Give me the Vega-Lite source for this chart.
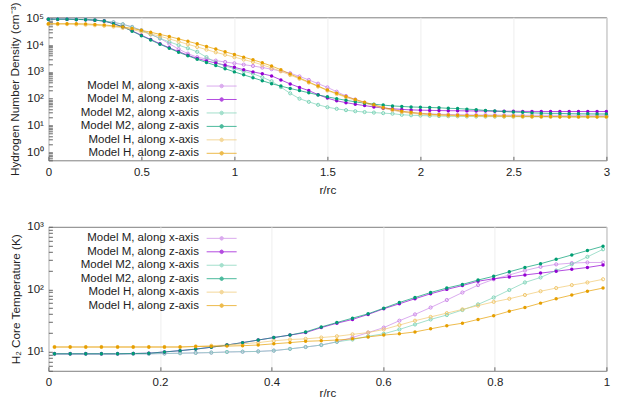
{
"$schema": "https://vega.github.io/schema/vega-lite/v6.json",
"padding": {"left": 8.4, "top": 1.3, "right": 3, "bottom": 0},
"spacing": 22.5,
"config": {
 "font": "Liberation Sans",
 "view": {"stroke": "#808080", "strokeWidth": 1},
 "axis": {"labelFont": "Liberation Sans", "labelFontSize": 11.5, "labelColor": "#222", "titleFont": "Liberation Sans", "titleFontSize": 11.8, "titleFontWeight": "normal", "titleColor": "#222", "domain": false, "grid": false, "tickColor": "#666", "tickSize": -4, "labelPadding": 10, "labelOverlap": false, "labelFlush": false},
 "axisY": {"labelPadding": 9, "titlePadding": 5},
 "legend": {"labelFont": "Liberation Sans"}
},
"resolve": {"legend": {"color": "independent"}},
"datasets": {
"top": [
{"s":"Mx","x":0,"y":93000},{"s":"Mx","x":0.05,"y":93000},{"s":"Mx","x":0.1,"y":93000},{"s":"Mx","x":0.15,"y":91000},{"s":"Mx","x":0.2,"y":91000},{"s":"Mx","x":0.25,"y":87000},{"s":"Mx","x":0.3,"y":79000},{"s":"Mx","x":0.35,"y":71000},{"s":"Mx","x":0.4,"y":60000},{"s":"Mx","x":0.45,"y":48000},{"s":"Mx","x":0.5,"y":35500},{"s":"Mx","x":0.55,"y":25100},{"s":"Mx","x":0.6,"y":17800},{"s":"Mx","x":0.65,"y":11200},{"s":"Mx","x":0.7,"y":7080},{"s":"Mx","x":0.75,"y":4790},{"s":"Mx","x":0.8,"y":3550},{"s":"Mx","x":0.85,"y":3020},{"s":"Mx","x":0.9,"y":2630},{"s":"Mx","x":0.95,"y":2340},{"s":"Mx","x":1.0,"y":2090},{"s":"Mx","x":1.05,"y":1860},{"s":"Mx","x":1.1,"y":1660},{"s":"Mx","x":1.15,"y":1450},{"s":"Mx","x":1.2,"y":1260},{"s":"Mx","x":1.25,"y":1070},{"s":"Mx","x":1.3,"y":891},{"s":"Mx","x":1.35,"y":676},{"s":"Mx","x":1.4,"y":501},{"s":"Mx","x":1.45,"y":363},{"s":"Mx","x":1.5,"y":263},{"s":"Mx","x":1.55,"y":182},{"s":"Mx","x":1.6,"y":126},{"s":"Mx","x":1.65,"y":93},{"s":"Mx","x":1.7,"y":71},{"s":"Mx","x":1.75,"y":56},{"s":"Mx","x":1.8,"y":45},{"s":"Mx","x":1.85,"y":38},{"s":"Mx","x":1.9,"y":33},{"s":"Mx","x":1.95,"y":30},{"s":"Mx","x":2.0,"y":28},{"s":"Mx","x":2.05,"y":27},{"s":"Mx","x":2.1,"y":26.3},{"s":"Mx","x":2.15,"y":25.7},{"s":"Mx","x":2.2,"y":25.1},{"s":"Mx","x":2.25,"y":24.8},{"s":"Mx","x":2.3,"y":24.5},{"s":"Mx","x":2.35,"y":24.5},{"s":"Mx","x":2.4,"y":24.3},{"s":"Mx","x":2.45,"y":24.2},{"s":"Mx","x":2.5,"y":24.1},{"s":"Mx","x":2.55,"y":24},{"s":"Mx","x":2.6,"y":24},{"s":"Mx","x":2.65,"y":24},{"s":"Mx","x":2.7,"y":24},{"s":"Mx","x":2.75,"y":24},{"s":"Mx","x":2.8,"y":24},{"s":"Mx","x":2.85,"y":24},{"s":"Mx","x":2.9,"y":24},{"s":"Mx","x":2.95,"y":24},{"s":"Mx","x":3.0,"y":24},
{"s":"Mz","x":0,"y":93000},{"s":"Mz","x":0.05,"y":93000},{"s":"Mz","x":0.1,"y":93000},{"s":"Mz","x":0.15,"y":91000},{"s":"Mz","x":0.2,"y":89000},{"s":"Mz","x":0.25,"y":85000},{"s":"Mz","x":0.3,"y":79000},{"s":"Mz","x":0.35,"y":63000},{"s":"Mz","x":0.4,"y":48000},{"s":"Mz","x":0.45,"y":34000},{"s":"Mz","x":0.5,"y":23400},{"s":"Mz","x":0.55,"y":16200},{"s":"Mz","x":0.6,"y":11200},{"s":"Mz","x":0.65,"y":7940},{"s":"Mz","x":0.7,"y":5750},{"s":"Mz","x":0.75,"y":4170},{"s":"Mz","x":0.8,"y":3160},{"s":"Mz","x":0.85,"y":2570},{"s":"Mz","x":0.9,"y":2140},{"s":"Mz","x":0.95,"y":1780},{"s":"Mz","x":1.0,"y":1480},{"s":"Mz","x":1.05,"y":1200},{"s":"Mz","x":1.1,"y":1000},{"s":"Mz","x":1.15,"y":851},{"s":"Mz","x":1.2,"y":708},{"s":"Mz","x":1.25,"y":501},{"s":"Mz","x":1.3,"y":355},{"s":"Mz","x":1.35,"y":263},{"s":"Mz","x":1.4,"y":200},{"s":"Mz","x":1.45,"y":141},{"s":"Mz","x":1.5,"y":105},{"s":"Mz","x":1.55,"y":83},{"s":"Mz","x":1.6,"y":71},{"s":"Mz","x":1.65,"y":62},{"s":"Mz","x":1.7,"y":55},{"s":"Mz","x":1.75,"y":49},{"s":"Mz","x":1.8,"y":44.7},{"s":"Mz","x":1.85,"y":41.7},{"s":"Mz","x":1.9,"y":39.8},{"s":"Mz","x":1.95,"y":38},{"s":"Mz","x":2.0,"y":37.2},{"s":"Mz","x":2.05,"y":36.5},{"s":"Mz","x":2.1,"y":36},{"s":"Mz","x":2.15,"y":35.5},{"s":"Mz","x":2.2,"y":35.3},{"s":"Mz","x":2.25,"y":35},{"s":"Mz","x":2.3,"y":34.7},{"s":"Mz","x":2.35,"y":34.5},{"s":"Mz","x":2.4,"y":34.2},{"s":"Mz","x":2.45,"y":34},{"s":"Mz","x":2.5,"y":33.9},{"s":"Mz","x":2.55,"y":33.5},{"s":"Mz","x":2.6,"y":33.4},{"s":"Mz","x":2.65,"y":33.3},{"s":"Mz","x":2.7,"y":33.2},{"s":"Mz","x":2.75,"y":33.1},{"s":"Mz","x":2.8,"y":33.1},{"s":"Mz","x":2.85,"y":33.1},{"s":"Mz","x":2.9,"y":33.1},{"s":"Mz","x":2.95,"y":33.1},{"s":"Mz","x":3.0,"y":33.1},
{"s":"M2x","x":0,"y":93000},{"s":"M2x","x":0.05,"y":93000},{"s":"M2x","x":0.1,"y":93000},{"s":"M2x","x":0.15,"y":91000},{"s":"M2x","x":0.2,"y":91000},{"s":"M2x","x":0.25,"y":87000},{"s":"M2x","x":0.3,"y":79000},{"s":"M2x","x":0.35,"y":71000},{"s":"M2x","x":0.4,"y":60000},{"s":"M2x","x":0.45,"y":47000},{"s":"M2x","x":0.5,"y":35500},{"s":"M2x","x":0.55,"y":25100},{"s":"M2x","x":0.6,"y":17800},{"s":"M2x","x":0.65,"y":13200},{"s":"M2x","x":0.7,"y":10000},{"s":"M2x","x":0.75,"y":7590},{"s":"M2x","x":0.8,"y":5620},{"s":"M2x","x":0.85,"y":3550},{"s":"M2x","x":0.9,"y":2240},{"s":"M2x","x":0.95,"y":1660},{"s":"M2x","x":1.0,"y":1320},{"s":"M2x","x":1.05,"y":1050},{"s":"M2x","x":1.1,"y":851},{"s":"M2x","x":1.15,"y":631},{"s":"M2x","x":1.2,"y":447},{"s":"M2x","x":1.25,"y":269},{"s":"M2x","x":1.3,"y":158},{"s":"M2x","x":1.35,"y":100},{"s":"M2x","x":1.4,"y":76},{"s":"M2x","x":1.45,"y":59},{"s":"M2x","x":1.5,"y":48},{"s":"M2x","x":1.55,"y":41.7},{"s":"M2x","x":1.6,"y":37.2},{"s":"M2x","x":1.65,"y":33.9},{"s":"M2x","x":1.7,"y":31.6},{"s":"M2x","x":1.75,"y":30.2},{"s":"M2x","x":1.8,"y":28.8},{"s":"M2x","x":1.85,"y":27.5},{"s":"M2x","x":1.9,"y":25.1},{"s":"M2x","x":1.95,"y":24},{"s":"M2x","x":2.0,"y":23.4},{"s":"M2x","x":2.05,"y":22.9},{"s":"M2x","x":2.1,"y":22.4},{"s":"M2x","x":2.15,"y":22.1},{"s":"M2x","x":2.2,"y":21.9},{"s":"M2x","x":2.25,"y":21.6},{"s":"M2x","x":2.3,"y":21.5},{"s":"M2x","x":2.35,"y":21.4},{"s":"M2x","x":2.4,"y":21.4},{"s":"M2x","x":2.45,"y":21.4},{"s":"M2x","x":2.5,"y":21.4},{"s":"M2x","x":2.55,"y":21.4},{"s":"M2x","x":2.6,"y":21.4},{"s":"M2x","x":2.65,"y":21.4},{"s":"M2x","x":2.7,"y":21.4},{"s":"M2x","x":2.75,"y":21.4},{"s":"M2x","x":2.8,"y":21.4},{"s":"M2x","x":2.85,"y":21.4},{"s":"M2x","x":2.9,"y":21.4},{"s":"M2x","x":2.95,"y":21.4},{"s":"M2x","x":3.0,"y":21.4},
{"s":"M2z","x":0,"y":93000},{"s":"M2z","x":0.05,"y":93000},{"s":"M2z","x":0.1,"y":93000},{"s":"M2z","x":0.15,"y":91000},{"s":"M2z","x":0.2,"y":89000},{"s":"M2z","x":0.25,"y":85000},{"s":"M2z","x":0.3,"y":79000},{"s":"M2z","x":0.35,"y":63000},{"s":"M2z","x":0.4,"y":48000},{"s":"M2z","x":0.45,"y":33000},{"s":"M2z","x":0.5,"y":22400},{"s":"M2z","x":0.55,"y":15500},{"s":"M2z","x":0.6,"y":10700},{"s":"M2z","x":0.65,"y":7590},{"s":"M2z","x":0.7,"y":5370},{"s":"M2z","x":0.75,"y":3980},{"s":"M2z","x":0.8,"y":2950},{"s":"M2z","x":0.85,"y":2240},{"s":"M2z","x":0.9,"y":1740},{"s":"M2z","x":0.95,"y":1320},{"s":"M2z","x":1.0,"y":1000},{"s":"M2z","x":1.05,"y":776},{"s":"M2z","x":1.1,"y":603},{"s":"M2z","x":1.15,"y":468},{"s":"M2z","x":1.2,"y":363},{"s":"M2z","x":1.25,"y":295},{"s":"M2z","x":1.3,"y":240},{"s":"M2z","x":1.35,"y":200},{"s":"M2z","x":1.4,"y":166},{"s":"M2z","x":1.45,"y":138},{"s":"M2z","x":1.5,"y":117},{"s":"M2z","x":1.55,"y":100},{"s":"M2z","x":1.6,"y":87},{"s":"M2z","x":1.65,"y":76},{"s":"M2z","x":1.7,"y":68},{"s":"M2z","x":1.75,"y":62},{"s":"M2z","x":1.8,"y":57.5},{"s":"M2z","x":1.85,"y":53.7},{"s":"M2z","x":1.9,"y":51.3},{"s":"M2z","x":1.95,"y":49},{"s":"M2z","x":2.0,"y":47.9},{"s":"M2z","x":2.05,"y":46.8},{"s":"M2z","x":2.1,"y":45.7},{"s":"M2z","x":2.15,"y":43.7},{"s":"M2z","x":2.2,"y":42.7},{"s":"M2z","x":2.25,"y":40.7},{"s":"M2z","x":2.3,"y":38.9},{"s":"M2z","x":2.35,"y":36.3},{"s":"M2z","x":2.4,"y":34.7},{"s":"M2z","x":2.45,"y":33.1},{"s":"M2z","x":2.5,"y":31.6},{"s":"M2z","x":2.55,"y":30.9},{"s":"M2z","x":2.6,"y":29.5},{"s":"M2z","x":2.65,"y":28.8},{"s":"M2z","x":2.7,"y":28.2},{"s":"M2z","x":2.75,"y":28.2},{"s":"M2z","x":2.8,"y":27.5},{"s":"M2z","x":2.85,"y":27.3},{"s":"M2z","x":2.9,"y":27.1},{"s":"M2z","x":2.95,"y":26.9},{"s":"M2z","x":3.0,"y":26.9},
{"s":"Hx","x":0,"y":60300},{"s":"Hx","x":0.05,"y":60300},{"s":"Hx","x":0.1,"y":60300},{"s":"Hx","x":0.15,"y":58900},{"s":"Hx","x":0.2,"y":57500},{"s":"Hx","x":0.25,"y":55000},{"s":"Hx","x":0.3,"y":52500},{"s":"Hx","x":0.35,"y":49000},{"s":"Hx","x":0.4,"y":43700},{"s":"Hx","x":0.45,"y":38000},{"s":"Hx","x":0.5,"y":31600},{"s":"Hx","x":0.55,"y":26300},{"s":"Hx","x":0.6,"y":21400},{"s":"Hx","x":0.65,"y":17000},{"s":"Hx","x":0.7,"y":13500},{"s":"Hx","x":0.75,"y":10700},{"s":"Hx","x":0.8,"y":8510},{"s":"Hx","x":0.85,"y":6760},{"s":"Hx","x":0.9,"y":5370},{"s":"Hx","x":0.95,"y":4370},{"s":"Hx","x":1.0,"y":3550},{"s":"Hx","x":1.05,"y":2880},{"s":"Hx","x":1.1,"y":2340},{"s":"Hx","x":1.15,"y":1820},{"s":"Hx","x":1.2,"y":1410},{"s":"Hx","x":1.25,"y":1050},{"s":"Hx","x":1.3,"y":759},{"s":"Hx","x":1.35,"y":550},{"s":"Hx","x":1.4,"y":398},{"s":"Hx","x":1.45,"y":282},{"s":"Hx","x":1.5,"y":200},{"s":"Hx","x":1.55,"y":148},{"s":"Hx","x":1.6,"y":112},{"s":"Hx","x":1.65,"y":87},{"s":"Hx","x":1.7,"y":68},{"s":"Hx","x":1.75,"y":54},{"s":"Hx","x":1.8,"y":43.7},{"s":"Hx","x":1.85,"y":37.2},{"s":"Hx","x":1.9,"y":31.6},{"s":"Hx","x":1.95,"y":28.8},{"s":"Hx","x":2.0,"y":26.3},{"s":"Hx","x":2.05,"y":25.1},{"s":"Hx","x":2.1,"y":24},{"s":"Hx","x":2.15,"y":23.4},{"s":"Hx","x":2.2,"y":22.9},{"s":"Hx","x":2.25,"y":22.6},{"s":"Hx","x":2.3,"y":22.4},{"s":"Hx","x":2.35,"y":22.1},{"s":"Hx","x":2.4,"y":21.9},{"s":"Hx","x":2.45,"y":21.6},{"s":"Hx","x":2.5,"y":21.4},{"s":"Hx","x":2.55,"y":21.2},{"s":"Hx","x":2.6,"y":20.9},{"s":"Hx","x":2.65,"y":20.9},{"s":"Hx","x":2.7,"y":20.9},{"s":"Hx","x":2.75,"y":20.9},{"s":"Hx","x":2.8,"y":20.9},{"s":"Hx","x":2.85,"y":20.9},{"s":"Hx","x":2.9,"y":20.9},{"s":"Hx","x":2.95,"y":20.9},{"s":"Hx","x":3.0,"y":20.9},
{"s":"Hz","x":0,"y":63000},{"s":"Hz","x":0.05,"y":63000},{"s":"Hz","x":0.1,"y":63000},{"s":"Hz","x":0.15,"y":63000},{"s":"Hz","x":0.2,"y":61700},{"s":"Hz","x":0.25,"y":58900},{"s":"Hz","x":0.3,"y":56200},{"s":"Hz","x":0.35,"y":52500},{"s":"Hz","x":0.4,"y":47900},{"s":"Hz","x":0.45,"y":41700},{"s":"Hz","x":0.5,"y":35500},{"s":"Hz","x":0.55,"y":30200},{"s":"Hz","x":0.6,"y":25100},{"s":"Hz","x":0.65,"y":20900},{"s":"Hz","x":0.7,"y":17000},{"s":"Hz","x":0.75,"y":13800},{"s":"Hz","x":0.8,"y":11200},{"s":"Hz","x":0.85,"y":8910},{"s":"Hz","x":0.9,"y":7080},{"s":"Hz","x":0.95,"y":5620},{"s":"Hz","x":1.0,"y":4470},{"s":"Hz","x":1.05,"y":3550},{"s":"Hz","x":1.1,"y":2820},{"s":"Hz","x":1.15,"y":2190},{"s":"Hz","x":1.2,"y":1660},{"s":"Hz","x":1.25,"y":1200},{"s":"Hz","x":1.3,"y":832},{"s":"Hz","x":1.35,"y":589},{"s":"Hz","x":1.4,"y":417},{"s":"Hz","x":1.45,"y":295},{"s":"Hz","x":1.5,"y":209},{"s":"Hz","x":1.55,"y":158},{"s":"Hz","x":1.6,"y":120},{"s":"Hz","x":1.65,"y":93},{"s":"Hz","x":1.7,"y":74},{"s":"Hz","x":1.75,"y":59},{"s":"Hz","x":1.8,"y":47},{"s":"Hz","x":1.85,"y":39.8},{"s":"Hz","x":1.9,"y":33.9},{"s":"Hz","x":1.95,"y":30.9},{"s":"Hz","x":2.0,"y":28.2},{"s":"Hz","x":2.05,"y":26.3},{"s":"Hz","x":2.1,"y":25.1},{"s":"Hz","x":2.15,"y":24.5},{"s":"Hz","x":2.2,"y":24},{"s":"Hz","x":2.25,"y":23.7},{"s":"Hz","x":2.3,"y":23.4},{"s":"Hz","x":2.35,"y":23.1},{"s":"Hz","x":2.4,"y":22.9},{"s":"Hz","x":2.45,"y":22.6},{"s":"Hz","x":2.5,"y":22.4},{"s":"Hz","x":2.55,"y":22.1},{"s":"Hz","x":2.6,"y":21.9},{"s":"Hz","x":2.65,"y":21.6},{"s":"Hz","x":2.7,"y":21.4},{"s":"Hz","x":2.75,"y":21.2},{"s":"Hz","x":2.8,"y":20.9},{"s":"Hz","x":2.85,"y":20.9},{"s":"Hz","x":2.9,"y":20.9},{"s":"Hz","x":2.95,"y":20.9},{"s":"Hz","x":3.0,"y":20.9}
],
"bot": [
{"s":"Mx","x":0.011,"y":9.33},{"s":"Mx","x":0.039,"y":9.33},{"s":"Mx","x":0.067,"y":9.33},{"s":"Mx","x":0.095,"y":9.33},{"s":"Mx","x":0.124,"y":9.33},{"s":"Mx","x":0.152,"y":9.33},{"s":"Mx","x":0.18,"y":9.33},{"s":"Mx","x":0.208,"y":9.44},{"s":"Mx","x":0.236,"y":9.55},{"s":"Mx","x":0.264,"y":9.66},{"s":"Mx","x":0.292,"y":9.77},{"s":"Mx","x":0.32,"y":10},{"s":"Mx","x":0.348,"y":10.1},{"s":"Mx","x":0.376,"y":10.2},{"s":"Mx","x":0.404,"y":10.5},{"s":"Mx","x":0.433,"y":11.2},{"s":"Mx","x":0.461,"y":12},{"s":"Mx","x":0.489,"y":12.9},{"s":"Mx","x":0.517,"y":14.5},{"s":"Mx","x":0.545,"y":17},{"s":"Mx","x":0.573,"y":20.4},{"s":"Mx","x":0.601,"y":24.5},{"s":"Mx","x":0.629,"y":31.6},{"s":"Mx","x":0.657,"y":39.8},{"s":"Mx","x":0.685,"y":51.3},{"s":"Mx","x":0.714,"y":67.6},{"s":"Mx","x":0.742,"y":89.1},{"s":"Mx","x":0.77,"y":117},{"s":"Mx","x":0.798,"y":145},{"s":"Mx","x":0.826,"y":170},{"s":"Mx","x":0.854,"y":200},{"s":"Mx","x":0.882,"y":229},{"s":"Mx","x":0.91,"y":251},{"s":"Mx","x":0.938,"y":263},{"s":"Mx","x":0.966,"y":269},{"s":"Mx","x":0.994,"y":269},
{"s":"Mz","x":0.011,"y":9.33},{"s":"Mz","x":0.039,"y":9.33},{"s":"Mz","x":0.067,"y":9.33},{"s":"Mz","x":0.095,"y":9.33},{"s":"Mz","x":0.124,"y":9.33},{"s":"Mz","x":0.152,"y":9.44},{"s":"Mz","x":0.18,"y":9.55},{"s":"Mz","x":0.208,"y":10},{"s":"Mz","x":0.236,"y":10.5},{"s":"Mz","x":0.264,"y":11.1},{"s":"Mz","x":0.292,"y":11.9},{"s":"Mz","x":0.32,"y":12.9},{"s":"Mz","x":0.348,"y":14.1},{"s":"Mz","x":0.376,"y":15.5},{"s":"Mz","x":0.404,"y":17},{"s":"Mz","x":0.433,"y":18.6},{"s":"Mz","x":0.461,"y":20.4},{"s":"Mz","x":0.489,"y":24.5},{"s":"Mz","x":0.517,"y":28.8},{"s":"Mz","x":0.545,"y":33.1},{"s":"Mz","x":0.573,"y":39.8},{"s":"Mz","x":0.601,"y":49},{"s":"Mz","x":0.629,"y":58.9},{"s":"Mz","x":0.657,"y":70.8},{"s":"Mz","x":0.685,"y":85.1},{"s":"Mz","x":0.714,"y":100},{"s":"Mz","x":0.742,"y":115},{"s":"Mz","x":0.77,"y":135},{"s":"Mz","x":0.798,"y":148},{"s":"Mz","x":0.826,"y":158},{"s":"Mz","x":0.854,"y":170},{"s":"Mz","x":0.882,"y":182},{"s":"Mz","x":0.91,"y":195},{"s":"Mz","x":0.938,"y":209},{"s":"Mz","x":0.966,"y":224},{"s":"Mz","x":0.994,"y":245},
{"s":"M2x","x":0.011,"y":9.33},{"s":"M2x","x":0.039,"y":9.33},{"s":"M2x","x":0.067,"y":9.33},{"s":"M2x","x":0.095,"y":9.33},{"s":"M2x","x":0.124,"y":9.33},{"s":"M2x","x":0.152,"y":9.33},{"s":"M2x","x":0.18,"y":9.33},{"s":"M2x","x":0.208,"y":9.44},{"s":"M2x","x":0.236,"y":9.55},{"s":"M2x","x":0.264,"y":9.66},{"s":"M2x","x":0.292,"y":9.77},{"s":"M2x","x":0.32,"y":10},{"s":"M2x","x":0.348,"y":10.1},{"s":"M2x","x":0.376,"y":10.2},{"s":"M2x","x":0.404,"y":10.5},{"s":"M2x","x":0.433,"y":11.2},{"s":"M2x","x":0.461,"y":12},{"s":"M2x","x":0.489,"y":12.9},{"s":"M2x","x":0.517,"y":14.5},{"s":"M2x","x":0.545,"y":15.8},{"s":"M2x","x":0.573,"y":17.8},{"s":"M2x","x":0.601,"y":19.5},{"s":"M2x","x":0.629,"y":22.9},{"s":"M2x","x":0.657,"y":27.5},{"s":"M2x","x":0.685,"y":33.1},{"s":"M2x","x":0.714,"y":38.9},{"s":"M2x","x":0.742,"y":46.8},{"s":"M2x","x":0.77,"y":57.5},{"s":"M2x","x":0.798,"y":74.1},{"s":"M2x","x":0.826,"y":97.7},{"s":"M2x","x":0.854,"y":129},{"s":"M2x","x":0.882,"y":155},{"s":"M2x","x":0.91,"y":200},{"s":"M2x","x":0.938,"y":251},{"s":"M2x","x":0.966,"y":331},{"s":"M2x","x":0.994,"y":437},
{"s":"M2z","x":0.011,"y":9.33},{"s":"M2z","x":0.039,"y":9.33},{"s":"M2z","x":0.067,"y":9.33},{"s":"M2z","x":0.095,"y":9.33},{"s":"M2z","x":0.124,"y":9.33},{"s":"M2z","x":0.152,"y":9.44},{"s":"M2z","x":0.18,"y":9.55},{"s":"M2z","x":0.208,"y":10},{"s":"M2z","x":0.236,"y":10.5},{"s":"M2z","x":0.264,"y":11.1},{"s":"M2z","x":0.292,"y":11.9},{"s":"M2z","x":0.32,"y":12.9},{"s":"M2z","x":0.348,"y":14.1},{"s":"M2z","x":0.376,"y":15.5},{"s":"M2z","x":0.404,"y":17},{"s":"M2z","x":0.433,"y":18.6},{"s":"M2z","x":0.461,"y":20.9},{"s":"M2z","x":0.489,"y":25.1},{"s":"M2z","x":0.517,"y":29.5},{"s":"M2z","x":0.545,"y":34.7},{"s":"M2z","x":0.573,"y":40.7},{"s":"M2z","x":0.601,"y":50.1},{"s":"M2z","x":0.629,"y":61.7},{"s":"M2z","x":0.657,"y":74.1},{"s":"M2z","x":0.685,"y":89.1},{"s":"M2z","x":0.714,"y":105},{"s":"M2z","x":0.742,"y":120},{"s":"M2z","x":0.77,"y":141},{"s":"M2z","x":0.798,"y":162},{"s":"M2z","x":0.826,"y":191},{"s":"M2z","x":0.854,"y":224},{"s":"M2z","x":0.882,"y":257},{"s":"M2z","x":0.91,"y":302},{"s":"M2z","x":0.938,"y":355},{"s":"M2z","x":0.966,"y":417},{"s":"M2z","x":0.994,"y":490},
{"s":"Hx","x":0.011,"y":12},{"s":"Hx","x":0.039,"y":12},{"s":"Hx","x":0.067,"y":12},{"s":"Hx","x":0.095,"y":12},{"s":"Hx","x":0.124,"y":12},{"s":"Hx","x":0.152,"y":12},{"s":"Hx","x":0.18,"y":12},{"s":"Hx","x":0.208,"y":12},{"s":"Hx","x":0.236,"y":12},{"s":"Hx","x":0.264,"y":12.3},{"s":"Hx","x":0.292,"y":12.6},{"s":"Hx","x":0.32,"y":12.9},{"s":"Hx","x":0.348,"y":13.5},{"s":"Hx","x":0.376,"y":14.1},{"s":"Hx","x":0.404,"y":15.1},{"s":"Hx","x":0.433,"y":15.8},{"s":"Hx","x":0.461,"y":16.2},{"s":"Hx","x":0.489,"y":17},{"s":"Hx","x":0.517,"y":17.8},{"s":"Hx","x":0.545,"y":19.1},{"s":"Hx","x":0.573,"y":20.4},{"s":"Hx","x":0.601,"y":22.9},{"s":"Hx","x":0.629,"y":26.9},{"s":"Hx","x":0.657,"y":31.6},{"s":"Hx","x":0.685,"y":36.3},{"s":"Hx","x":0.714,"y":41.7},{"s":"Hx","x":0.742,"y":47.9},{"s":"Hx","x":0.77,"y":55},{"s":"Hx","x":0.798,"y":63.1},{"s":"Hx","x":0.826,"y":70.8},{"s":"Hx","x":0.854,"y":81.3},{"s":"Hx","x":0.882,"y":93.3},{"s":"Hx","x":0.91,"y":105},{"s":"Hx","x":0.938,"y":117},{"s":"Hx","x":0.966,"y":129},{"s":"Hx","x":0.994,"y":145},
{"s":"Hz","x":0.011,"y":12},{"s":"Hz","x":0.039,"y":12},{"s":"Hz","x":0.067,"y":12},{"s":"Hz","x":0.095,"y":12},{"s":"Hz","x":0.124,"y":12},{"s":"Hz","x":0.152,"y":12},{"s":"Hz","x":0.18,"y":12},{"s":"Hz","x":0.208,"y":12},{"s":"Hz","x":0.236,"y":12},{"s":"Hz","x":0.264,"y":12.2},{"s":"Hz","x":0.292,"y":12.3},{"s":"Hz","x":0.32,"y":12.4},{"s":"Hz","x":0.348,"y":12.6},{"s":"Hz","x":0.376,"y":12.9},{"s":"Hz","x":0.404,"y":13.5},{"s":"Hz","x":0.433,"y":14.1},{"s":"Hz","x":0.461,"y":14.8},{"s":"Hz","x":0.489,"y":15.1},{"s":"Hz","x":0.517,"y":15.5},{"s":"Hz","x":0.545,"y":16.2},{"s":"Hz","x":0.573,"y":17.4},{"s":"Hz","x":0.601,"y":18.6},{"s":"Hz","x":0.629,"y":19.5},{"s":"Hz","x":0.657,"y":20.9},{"s":"Hz","x":0.685,"y":23.4},{"s":"Hz","x":0.714,"y":26.3},{"s":"Hz","x":0.742,"y":28.8},{"s":"Hz","x":0.77,"y":33.1},{"s":"Hz","x":0.798,"y":38},{"s":"Hz","x":0.826,"y":44.7},{"s":"Hz","x":0.854,"y":51.3},{"s":"Hz","x":0.882,"y":60.3},{"s":"Hz","x":0.91,"y":70.8},{"s":"Hz","x":0.938,"y":81.3},{"s":"Hz","x":0.966,"y":93.3},{"s":"Hz","x":0.994,"y":105}
]
},
"vconcat": [
{
 "width": 558, "height": 143,
 "data": {"name": "top"},
 "encoding": {
  "x": {"field": "x", "type": "quantitative", "scale": {"domain": [0, 3], "nice": false, "zero": false},
        "axis": {"title": "r/rc", "values": [0, 0.5, 1, 1.5, 2, 2.5, 3], "format": "~g", "grid": true, "gridColor": "#eeeeee", "titlePadding": 7}},
  "y": {"field": "y", "type": "quantitative", "scale": {"type": "log", "domain": [0.5, 109000], "nice": false},
        "axis": {"title": "Hydrogen Number Density (cm⁻³)", "values": [0.5,0.6,0.7,0.8,0.9,1,2,3,4,5,6,7,8,9,10,20,30,40,50,60,70,80,90,100,200,300,400,500,600,700,800,900,1000,2000,3000,4000,5000,6000,7000,8000,9000,10000,20000,30000,40000,50000,60000,70000,80000,90000,100000], "labelExpr": "abs(log(datum.value)/LN10 - round(log(datum.value)/LN10)) < 0.001 ? '10' + ['⁰','¹','²','³','⁴','⁵'][round(log(datum.value)/LN10)] : ''"}},
  "color": {"field": "s", "type": "nominal",
   "scale": {"domain": ["Mx", "Mz", "M2x", "M2z", "Hx", "Hz"], "range": ["#cc88e8", "#9400d3", "#7dd3b8", "#009e73", "#f0c870", "#e69f00"]},
   "legend": {"orient": "none", "legendX": 0, "legendY": 63, "title": null, "padding": 0, "offset": 0,
     "symbolType": "M30.5,0L36.5,0M33.86,0L33.755,0.255L33.5,0.36L33.245,0.255L33.14,0L33.245,-0.255L33.5,-0.36L33.755,-0.255Z", "symbolSize": 100, "symbolStrokeWidth": 1,
     "labelAlign": "right", "labelOffset": 139, "labelFontSize": 11.5, "labelColor": "#222", "rowPadding": 0.45,
     "labelExpr": "{'Mx':'Model M, along x-axis','Mz':'Model M, along z-axis','M2x':'Model M2, along x-axis','M2z':'Model M2, along z-axis','Hx':'Model H, along x-axis','Hz':'Model H, along z-axis'}[datum.label]",
     "encode": {"symbols": {"update": {"fill": {"signal": "test(/z$/, datum.value) ? scale('color', datum.value) : 'white'"}, "stroke": {"signal": "scale('color', datum.value)"}, "opacity": {"value": 1}}}}}}
 },
 "layer": [
  {"mark": {"type": "line", "strokeWidth": 1, "opacity": 0.7}},
  {"transform": [{"filter": "test(/x$/, datum.s)"}], "mark": {"type": "point", "shape": "circle", "filled": false, "size": 10, "strokeWidth": 1, "opacity": 1}},
  {"transform": [{"filter": "test(/z$/, datum.s)"}], "mark": {"type": "point", "shape": "circle", "filled": true, "size": 12, "opacity": 1}}
 ]
},
{
 "width": 558, "height": 144,
 "data": {"name": "bot"},
 "encoding": {
  "x": {"field": "x", "type": "quantitative", "scale": {"domain": [0, 1], "nice": false, "zero": false},
        "axis": {"title": "r/rc", "values": [0, 0.2, 0.4, 0.6, 0.8, 1], "format": "~g", "grid": true, "gridColor": "#eeeeee", "titlePadding": -1, "titleFontSize": 11.5}},
  "y": {"field": "y", "type": "quantitative", "scale": {"type": "log", "domain": [5, 1000], "nice": false},
        "axis": {"title": "H₂ Core Temperature (K)", "values": [5,6,7,8,9,10,20,30,40,50,60,70,80,90,100,200,300,400,500,600,700,800,900,1000], "labelExpr": "abs(log(datum.value)/LN10 - round(log(datum.value)/LN10)) < 0.001 ? '10' + ['⁰','¹','²','³','⁴','⁵'][round(log(datum.value)/LN10)] : ''"}},
  "color": {"field": "s", "type": "nominal",
   "scale": {"domain": ["Mx", "Mz", "M2x", "M2z", "Hx", "Hz"], "range": ["#cc88e8", "#9400d3", "#7dd3b8", "#009e73", "#f0c870", "#e69f00"]},
   "legend": {"orient": "none", "legendX": 0, "legendY": 5.8, "title": null, "padding": 0, "offset": 0,
     "symbolType": "M30.5,0L36.5,0M33.86,0L33.755,0.255L33.5,0.36L33.245,0.255L33.14,0L33.245,-0.255L33.5,-0.36L33.755,-0.255Z", "symbolSize": 100, "symbolStrokeWidth": 1,
     "labelAlign": "right", "labelOffset": 139, "labelFontSize": 11.5, "labelColor": "#222", "rowPadding": 0.45,
     "labelExpr": "{'Mx':'Model M, along x-axis','Mz':'Model M, along z-axis','M2x':'Model M2, along x-axis','M2z':'Model M2, along z-axis','Hx':'Model H, along x-axis','Hz':'Model H, along z-axis'}[datum.label]",
     "encode": {"symbols": {"update": {"fill": {"signal": "test(/z$/, datum.value) ? scale('color', datum.value) : 'white'"}, "stroke": {"signal": "scale('color', datum.value)"}, "opacity": {"value": 1}}}}}}
 },
 "layer": [
  {"mark": {"type": "line", "strokeWidth": 1, "opacity": 0.7}},
  {"transform": [{"filter": "test(/x$/, datum.s)"}], "mark": {"type": "point", "shape": "circle", "filled": false, "size": 10, "strokeWidth": 1, "opacity": 1}},
  {"transform": [{"filter": "test(/z$/, datum.s)"}], "mark": {"type": "point", "shape": "circle", "filled": true, "size": 12, "opacity": 1}}
 ]
}
]
}
